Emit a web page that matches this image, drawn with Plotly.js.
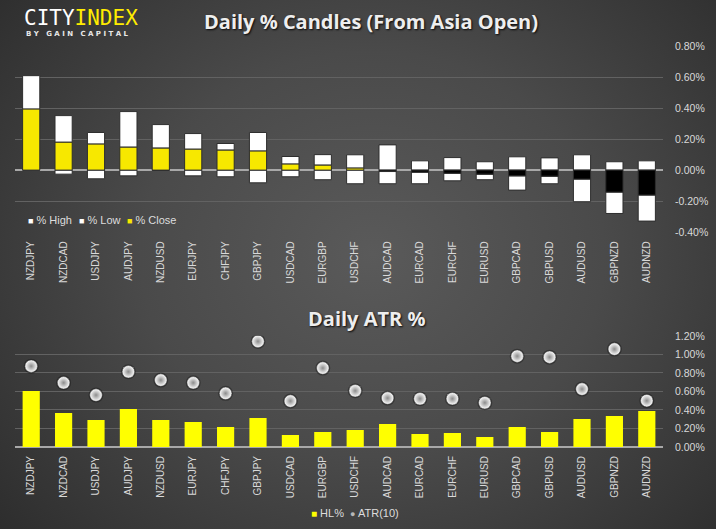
<!DOCTYPE html>
<html><head><meta charset="utf-8">
<script src="https://cdn.plot.ly/plotly-3.0.1.min.js"></script>
<style>
html,body{margin:0;padding:0;width:716px;height:529px;overflow:hidden;
background: radial-gradient(ellipse 72% 85% at 52% 48%, #5a5a5a 0%, #4a4a4a 45%, #333333 85%, #2a2a2a 100%);}
#chart{width:716px;height:529px;}
</style></head><body><div id="chart"></div>
<script>
const pairs = ['NZDJPY','NZDCAD','USDJPY','AUDJPY','NZDUSD','EURJPY','CHFJPY','GBPJPY','USDCAD','EURGBP','USDCHF','AUDCAD','EURCAD','EURCHF','EURUSD','GBPCAD','GBPUSD','AUDUSD','GBPNZD','AUDNZD'];
const highPct  = [0.610,0.352,0.243,0.378,0.294,0.236,0.172,0.243,0.088,0.100,0.099,0.163,0.060,0.081,0.054,0.086,0.079,0.099,0.054,0.060];
const lowPct   = [0.000,-0.026,-0.056,-0.037,-0.002,-0.037,-0.043,-0.082,-0.043,-0.062,-0.088,-0.088,-0.088,-0.069,-0.062,-0.129,-0.088,-0.204,-0.280,-0.329];
const closePct = [0.394,0.180,0.168,0.148,0.142,0.135,0.129,0.123,0.039,0.032,0.013,-0.009,-0.013,-0.020,-0.026,-0.037,-0.039,-0.058,-0.142,-0.161];
const hlPct    = [0.604,0.367,0.291,0.410,0.291,0.270,0.216,0.313,0.129,0.162,0.183,0.248,0.140,0.151,0.108,0.216,0.162,0.302,0.334,0.388];
const atr10    = [0.873,0.693,0.560,0.812,0.722,0.693,0.579,1.140,0.496,0.852,0.607,0.528,0.521,0.521,0.478,0.981,0.970,0.625,1.057,0.500];
const candleTicks = [-0.4,-0.2,0,0.2,0.4,0.6,0.8];
const candleTickText = ['-0.40%','-0.20%','0.00%','0.20%','0.40%','0.60%','0.80%'];
const atrTicks = [0,0.2,0.4,0.6,0.8,1.0,1.2];
const atrTickText = ['0.00%','0.20%','0.40%','0.60%','0.80%','1.00%','1.20%'];

const W = 716, H = 529;
const px = v => v / W;
const py = v => 1 - v / H;
const YEL = '#f7e800', BRIGHT = '#ffff00';
const outline = {color:'#2e2e2e', width:1};
const barW = 0.53;

const upBase = closePct.map(c => Math.max(c, 0));
const dnBase = closePct.map(c => Math.min(c, 0));

const traces = [
  {type:'bar', name:'% High', x:pairs, y:highPct.map((h,i)=>h-upBase[i]), base:upBase,
   width:barW, marker:{color:'#ffffff', line:outline}, hoverinfo:'skip', showlegend:false, xaxis:'x', yaxis:'y'},
  {type:'bar', name:'% Low', x:pairs, y:lowPct.map((l,i)=>l-dnBase[i]), base:dnBase,
   width:barW, marker:{color:'#ffffff', line:outline}, hoverinfo:'skip', showlegend:false, xaxis:'x', yaxis:'y'},
  {type:'bar', name:'% Close', x:pairs, y:closePct, base:0,
   width:barW, marker:{color:closePct.map(c => c >= 0 ? YEL : '#000000'), line:outline}, hoverinfo:'skip', showlegend:false, xaxis:'x', yaxis:'y'},
  {type:'bar', name:'HL%', x:pairs, y:hlPct, width:barW,
   marker:{color:BRIGHT, line:{width:0}}, hoverinfo:'skip', showlegend:false, xaxis:'x2', yaxis:'y2'},
  {type:'scatter', mode:'markers', name:'shadow', x:pairs, y:atr10,
   marker:{size:15, color:'rgba(0,0,0,0.3)', line:{width:0}}, hoverinfo:'skip', showlegend:false, xaxis:'x2', yaxis:'y2'},
  {type:'scatter', mode:'markers', name:'ATR(10)', x:pairs, y:atr10,
   marker:{size:12.5, color:'#ffffff', gradient:{type:'radial', color:'#8c8c8c'}, line:{width:0.5, color:'#3a3a3a'}},
   hoverinfo:'skip', showlegend:false, xaxis:'x2', yaxis:'y2'}
];

const tickFont = {family:'Liberation Sans, Arial, sans-serif', size:10, color:'#d9d9d9'};
const xDom = [px(15), px(663)];
const xCommon = {type:'category', domain:xDom, range:[-0.5,19.5], tickangle:-90, tickfont:tickFont,
  showgrid:false, zeroline:false, showline:false, ticks:'', fixedrange:true};
const yCommon = {side:'right', tickfont:{family:'Liberation Sans, Arial, sans-serif', size:10.5, color:'#d9d9d9'}, gridcolor:'#626262', gridwidth:1,
  zeroline:true, zerolinecolor:'#a8a8a8', zerolinewidth:1.3, showline:false, ticks:'', ticklabelstandoff:11, fixedrange:true};

const layout = {
  width:W, height:H,
  paper_bgcolor:'rgba(0,0,0,0)', plot_bgcolor:'rgba(0,0,0,0)',
  margin:{l:0,r:0,t:0,b:0},
  barmode:'overlay', showlegend:false,
  xaxis:Object.assign({}, xCommon, {anchor:'y', ticklabelstandoff:6}),
  yaxis:Object.assign({}, yCommon, {anchor:'x', domain:[py(232.3), py(46)], range:[-0.4015,0.8015],
    tickvals:candleTicks, ticktext:candleTickText}),
  xaxis2:Object.assign({}, xCommon, {anchor:'y2', ticklabelstandoff:6}),
  yaxis2:Object.assign({}, yCommon, {anchor:'x2', domain:[py(447), py(335.7)], range:[0,1.2015],
    tickvals:atrTicks, ticktext:atrTickText}),
  annotations:[
    {xref:'paper', yref:'paper', x:px(22), y:py(18), xanchor:'left', yanchor:'middle', showarrow:false,
     text:'<span style="color:#ffffff">CITY</span><span style="color:#ffec00">INDEX</span>',
     font:{family:'DejaVu Sans Mono, monospace', size:21}},
    {xref:'paper', yref:'paper', x:px(24), y:py(33.5), xanchor:'left', yanchor:'middle', showarrow:false,
     text:'B\u00a0Y\u00a0\u00a0\u00a0G\u00a0A\u00a0I\u00a0N\u00a0\u00a0\u00a0C\u00a0A\u00a0P\u00a0I\u00a0T\u00a0A\u00a0L',
     font:{family:'DejaVu Sans, sans-serif', size:7, color:'#e8e8e8', weight:'bold'}},
    {xref:'paper', yref:'paper', x:px(371), y:py(22), xanchor:'center', yanchor:'middle', showarrow:false,
     text:'<b>Daily % Candles (From Asia Open)</b>',
     font:{family:'Open Sans, sans-serif', size:20, color:'#eeeeee', shadow:'1px 1px 2px rgba(0,0,0,0.9)'}},
    {xref:'paper', yref:'paper', x:px(366), y:py(318), xanchor:'center', yanchor:'middle', showarrow:false,
     text:'<b>Daily ATR %</b>',
     font:{family:'Open Sans, sans-serif', size:20, color:'#eeeeee', shadow:'1px 1px 2px rgba(0,0,0,0.9)'}},
    {xref:'paper', yref:'paper', x:px(26), y:py(219.5), xanchor:'left', yanchor:'middle', showarrow:false,
     text:'<span style="color:#ffffff;font-size:9px">■</span> % High',
     font:{family:'Liberation Sans, Arial, sans-serif', size:11, color:'#dddddd'}},
    {xref:'paper', yref:'paper', x:px(76.5), y:py(219.5), xanchor:'left', yanchor:'middle', showarrow:false,
     text:'<span style="color:#ffffff;font-size:9px">■</span> % Low',
     font:{family:'Liberation Sans, Arial, sans-serif', size:11, color:'#dddddd'}},
    {xref:'paper', yref:'paper', x:px(124.5), y:py(219.5), xanchor:'left', yanchor:'middle', showarrow:false,
     text:'<span style="color:'+YEL+';font-size:9px">■</span> % Close',
     font:{family:'Liberation Sans, Arial, sans-serif', size:11, color:'#dddddd'}},
    {xref:'paper', yref:'paper', x:px(355), y:py(513), xanchor:'center', yanchor:'middle', showarrow:false,
     text:'<span style="color:#ffff00;font-size:10px">■</span> HL%\u00a0\u00a0<span style="color:#b8b8b8;font-size:9px">●</span> ATR(10)',
     font:{family:'Liberation Sans, Arial, sans-serif', size:11, color:'#dddddd'}}
  ]
};

Plotly.newPlot('chart', traces, layout, {staticPlot:true, displayModeBar:false});
</script>
</body></html>
